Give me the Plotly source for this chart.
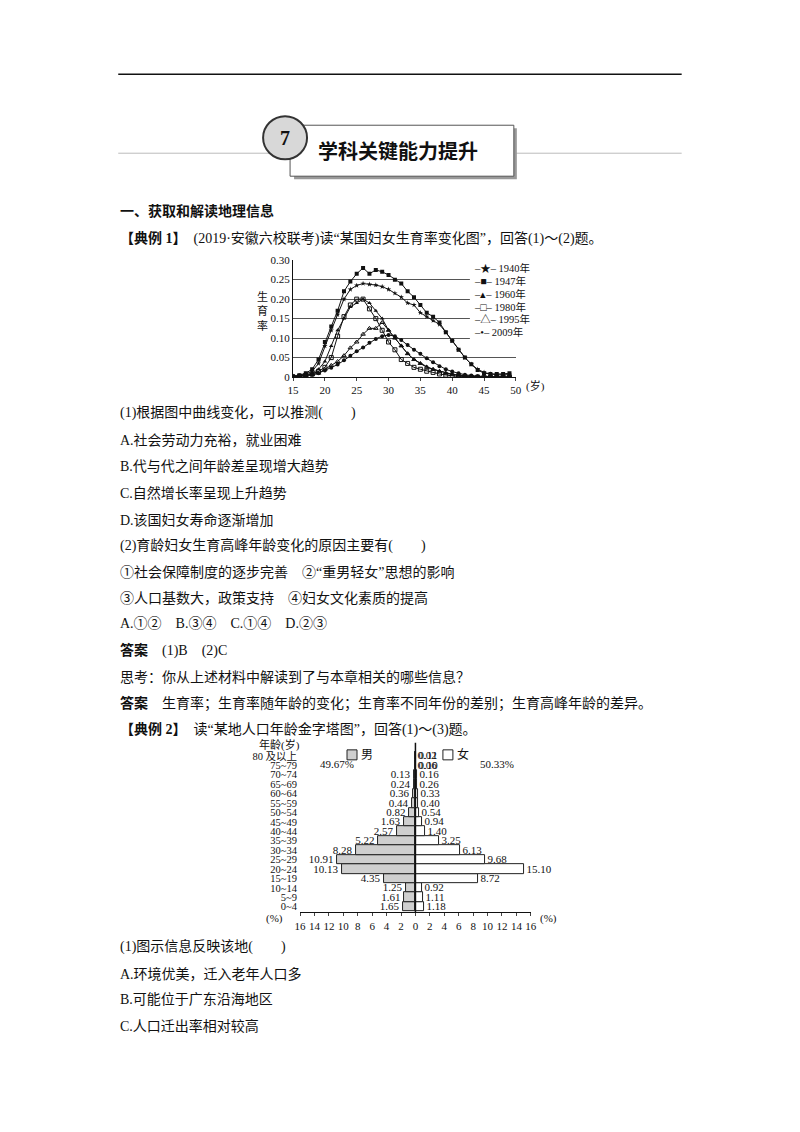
import plotly.graph_objects as go

W, H = 800, 1132
SERIF = "Liberation Serif, Noto Sans CJK SC"

# ---- fertility chart data ----
ages = list(range(15, 50))
r1940 = [.002, .004, .008, .015, .035, .08, .12, .16, .2, .225, .235, .24, .238, .236, .232, .225, .215, .205, .19, .185,
         .165, .155, .145, .135, .115, .093, .07, .05, .033, .02, .012, .008, .006, .006, .006]
r1947 = [.002, .005, .01, .02, .045, .09, .13, .17, .22, .245, .265, .28, .265, .275, .27, .262, .25, .24, .22, .205,
         .185, .165, .155, .14, .115, .093, .07, .05, .033, .018, .01, .008, .008, .008, .01]
r1960 = [.001, .003, .006, .01, .02, .04, .08, .12, .15, .18, .19, .2, .19, .17, .15, .12, .1, .08, .06, .045,
         .035, .027, .02, .015, .01, .007, .005, .003, .002, .001, .001, .001, 0, 0, 0]
r1980 = [0, .002, .004, .008, .015, .025, .05, .105, .155, .185, .2, .2, .175, .15, .12, .09, .07, .045, .035, .025,
         .02, .015, .012, .008, .005, .003, .002, .001, 0, 0, 0, 0, 0, 0, 0]
r1995 = [0, .002, .004, .006, .01, .02, .03, .04, .055, .075, .09, .11, .125, .125, .14, .12, .1, .08, .06, .045,
         .035, .025, .02, .015, .01, .007, .005, .003, .002, .001, 0, 0, 0, 0, 0]
r2009 = [0, .002, .004, .006, .01, .017, .024, .032, .043, .055, .066, .076, .088, .098, .105, .108, .105, .095, .082, .07,
         .06, .048, .038, .028, .02, .014, .01, .006, .004, .002, .001, .001, .001, 0, 0]
legend_names = ["1940年", "1947年", "1960年", "1980年", "1995年", "2009年"]
legend_marks = ["★", "■", "▴", "□", "△", "•"]

# ---- pyramid data ----
groups = ["0~4", "5~9", "10~14", "15~19", "20~24", "25~29", "30~34", "35~39", "40~44", "45~49",
          "50~54", "55~59", "60~64", "65~69", "70~74", "75~79", "80 及以上"]
male = [1.65, 1.61, 1.25, 4.35, 10.13, 10.91, 8.28, 5.22, 2.57, 1.63, 0.82, 0.44, 0.36, 0.24, 0.13, 0.06, 0.02]
female = [1.18, 1.11, 0.92, 8.72, 15.10, 9.68, 6.13, 3.25, 1.40, 0.94, 0.54, 0.40, 0.33, 0.26, 0.16, 0.10, 0.11]


# the page shows the figure slightly scaled and offset, so map reference pixels back
def px(x):
    return ((x - 13.65) / 0.986) / W


def py(y):
    return 1 - ((y - 12.7) / 0.99) / H


fig = go.Figure()
symbols = ["star", "square", "triangle-up", "square-open", "triangle-up-open", "circle"]
for name, vals, sym in zip(legend_names, [r1940, r1947, r1960, r1980, r1995, r2009], symbols):
    fig.add_trace(go.Scatter(x=ages, y=vals, name=name, mode="lines+markers",
                             line=dict(color="#111", width=1), marker=dict(symbol=sym, size=4, color="#111"),
                             xaxis="x", yaxis="y", showlegend=False))

fig.add_trace(go.Bar(y=list(range(17)), x=[-m for m in male], orientation="h",
                     marker=dict(color="#cfcfcf", line=dict(color="#222", width=1)),
                     text=[f"{m:.2f}" for m in male], textposition="outside", constraintext="none",
                     textfont=dict(size=11, family=SERIF), cliponaxis=False, width=1, showlegend=False,
                     xaxis="x2", yaxis="y2"))
fig.add_trace(go.Bar(y=list(range(17)), x=female, orientation="h",
                     marker=dict(color="white", line=dict(color="#222", width=1)),
                     text=[f"{f:.2f}" for f in female], textposition="outside", constraintext="none",
                     textfont=dict(size=11, family=SERIF), cliponaxis=False, width=1, showlegend=False,
                     xaxis="x2", yaxis="y2"))

fig.update_layout(
    width=W, height=H, margin=dict(l=0, r=0, t=0, b=0), paper_bgcolor="white", plot_bgcolor="white",
    font=dict(family=SERIF, color="#111", size=14), barmode="overlay", bargap=0, showlegend=False,
    xaxis=dict(domain=[px(293), px(516)], range=[15, 50], dtick=5, showgrid=False, showline=True, linecolor="#111",
               ticks="outside", ticklen=3, tickfont=dict(size=11), anchor="y", zeroline=False),
    yaxis=dict(domain=[py(376), py(259)], range=[0, 0.3], tickvals=[0, .05, .1, .15, .2, .25, .3],
               ticktext=["0", "0.05", "0.10", "0.15", "0.20", "0.25", "0.30"], showgrid=True,
               gridcolor="#555", gridwidth=1, showline=True, linecolor="#111", tickfont=dict(size=11),
               anchor="x", zeroline=False),
    xaxis2=dict(domain=[px(300), px(531)], range=[-16, 16], tickvals=list(range(-16, 17, 2)),
                ticktext=[str(abs(v)) for v in range(-16, 17, 2)], showline=True, linecolor="#111", ticks="outside",
                ticklen=3, tickfont=dict(size=11), showgrid=False, zeroline=False, anchor="y2"),
    yaxis2=dict(domain=[py(911.7), py(750.3)], range=[-0.6, 16.5], tickvals=list(range(17)), ticktext=groups,
                tickfont=dict(size=10.5), showgrid=False, showline=False, zeroline=False, anchor="x2",
                ticklabelstandoff=2),
)

shapes = [
    dict(type="line", xref="paper", yref="paper", x0=px(118), x1=px(682), y0=py(73), y1=py(73), line=dict(color="#111", width=1.5)),
    dict(type="line", xref="paper", yref="paper", x0=px(118), x1=px(682), y0=py(152), y1=py(152), line=dict(color="#bbb", width=1)),
    dict(type="rect", xref="paper", yref="paper", x0=px(294), x1=px(517), y0=py(178), y1=py(127), line=dict(width=0), fillcolor="#999"),
    dict(type="rect", xref="paper", yref="paper", x0=px(290), x1=px(514), y0=py(175), y1=py(124), line=dict(color="#555", width=1), fillcolor="white"),
    dict(type="circle", xref="paper", yref="paper", x0=px(263), x1=px(307), y0=py(158), y1=py(115), line=dict(color="#333", width=2), fillcolor="#d8d8d8"),
    dict(type="rect", xref="paper", yref="paper", x0=px(470), x1=px(520), y0=py(338), y1=py(260), line=dict(width=0), fillcolor="white"),
    dict(type="line", xref="x2", yref="paper", x0=0, x1=0, y0=py(912), y1=py(742), line=dict(color="#111", width=1.5)),
    dict(type="rect", xref="paper", yref="paper", x0=px(347), x1=px(357), y0=py(759), y1=py(749), line=dict(color="#222", width=1), fillcolor="#cfcfcf"),
    dict(type="rect", xref="paper", yref="paper", x0=px(443), x1=px(453), y0=py(759), y1=py(749), line=dict(color="#222", width=1), fillcolor="white"),
]
fig.update_layout(shapes=shapes)


def txt(x, y, s, size=14, anchor="left"):
    fig.add_annotation(x=px(x), y=py(y), xref="paper", yref="paper", text=s, showarrow=False,
                       xanchor=anchor, yanchor="middle", font=dict(size=size, family=SERIF, color="#111"))


txt(285, 137, "<b>7</b>", size=20, anchor="center")
txt(316, 151, "<b>学科关键能力提升</b>", size=20)
lines = [
    (210, "<b>一、获取和解读地理信息</b>"),
    (237, "<b>【典例 1】</b>　(2019·安徽六校联考)读“某国妇女生育率变化图”，回答(1)～(2)题。"),
    (412, "(1)根据图中曲线变化，可以推测(　　)"),
    (439, "A.社会劳动力充裕，就业困难"),
    (465, "B.代与代之间年龄差呈现增大趋势"),
    (492, "C.自然增长率呈现上升趋势"),
    (519, "D.该国妇女寿命逐渐增加"),
    (545, "(2)育龄妇女生育高峰年龄变化的原因主要有(　　)"),
    (571, "①社会保障制度的逐步完善　②“重男轻女”思想的影响"),
    (597, "③人口基数大，政策支持　④妇女文化素质的提高"),
    (623, "A.①②　B.③④　C.①④　D.②③"),
    (650, "<b>答案</b>　(1)B　(2)C"),
    (676, "思考：你从上述材料中解读到了与本章相关的哪些信息？"),
    (703, "<b>答案</b>　生育率；生育率随年龄的变化；生育率不同年份的差别；生育高峰年龄的差异。"),
    (729, "<b>【典例 2】</b>　读“某地人口年龄金字塔图”，回答(1)～(3)题。"),
    (946, "(1)图示信息反映该地(　　)"),
    (973, "A.环境优美，迁入老年人口多"),
    (999, "B.可能位于广东沿海地区"),
    (1025, "C.人口迁出率相对较高"),
]
for y, s in lines:
    txt(118, y, s)

# manual legend for the fertility chart
for i, (name, mark) in enumerate(zip(legend_names, legend_marks)):
    txt(472, 267 + i * 12.8, "–" + mark + "– " + name, size=10.5)

txt(262, 310, "生<br>育<br>率", size=11, anchor="center")
txt(524, 385, "(岁)", size=11)
txt(257, 744, "年龄(岁)", size=11)
txt(318, 763, "49.67%", size=11)
txt(359, 754, "男", size=12)
txt(455, 754, "女", size=12)
txt(478, 763, "50.33%", size=11)
txt(274, 918, "(%)", size=11, anchor="center")
txt(538, 918, "(%)", size=11)

fig.write_html("out.html")
